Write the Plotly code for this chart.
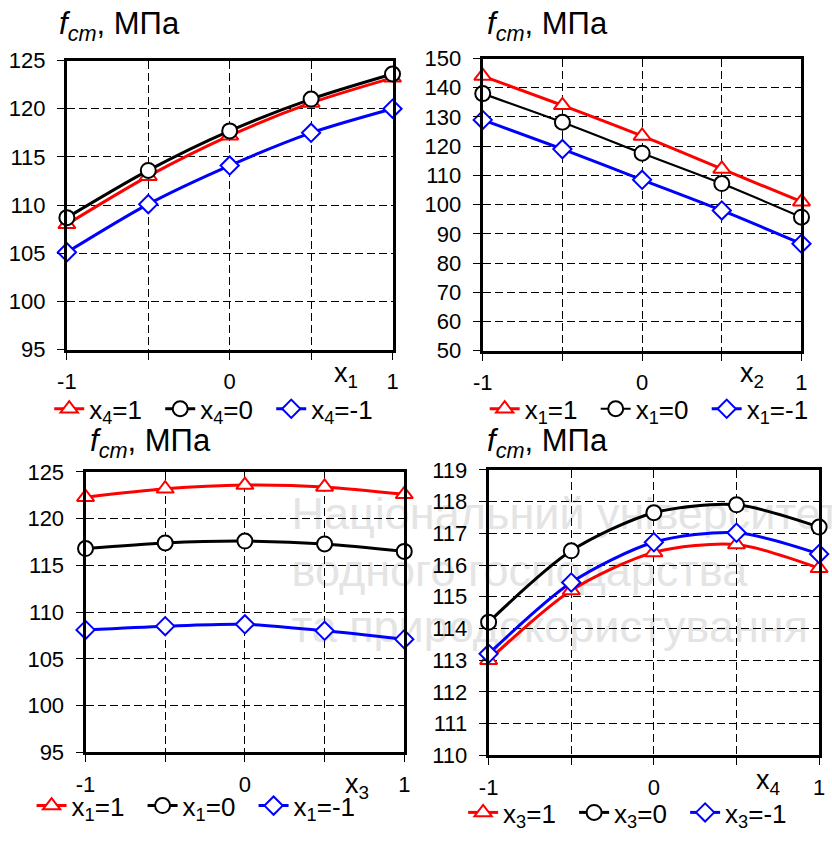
import plotly.graph_objects as go

# ---------------- data ----------------
x_levels = [-1, -0.5, 0, 0.5, 1]
x_ticktext = ["-1", "", "0", "", "1"]

# panel 1: f_cm vs x1
p1_x4_p1 = [108.0, 113.0, 117.2, 120.6, 123.2]
p1_x4_0 = [108.7, 113.6, 117.7, 121.0, 123.6]
p1_x4_m1 = [105.1, 110.1, 114.1, 117.5, 120.0]
# panel 2: f_cm vs x2
p2_x1_p1 = [144.0, 134.0, 123.5, 112.2, 101.0]
p2_x1_0 = [138.0, 128.2, 117.6, 107.2, 95.7]
p2_x1_m1 = [129.0, 119.0, 108.5, 98.0, 86.6]
# panel 3: f_cm vs x3
p3_x1_p1 = [122.3, 123.2, 123.6, 123.4, 122.6]
p3_x1_0 = [116.8, 117.4, 117.6, 117.3, 116.5]
p3_x1_m1 = [108.1, 108.5, 108.7, 108.0, 107.1]
# panel 4: f_cm vs x4
p4_x3_p1 = [113.0, 115.2, 116.4, 116.65, 115.9]
p4_x3_0 = [114.2, 116.45, 117.65, 117.9, 117.2]
p4_x3_m1 = [113.2, 115.45, 116.72, 117.02, 116.35]

panels = [
    dict(series=[p1_x4_p1, p1_x4_0, p1_x4_m1], sub="4", axis_sub="1",
         yr=[95, 125], dt=5),
    dict(series=[p2_x1_p1, p2_x1_0, p2_x1_m1], sub="1", axis_sub="2",
         yr=[50, 150], dt=10),
    dict(series=[p3_x1_p1, p3_x1_0, p3_x1_m1], sub="1", axis_sub="3",
         yr=[95, 125], dt=5),
    dict(series=[p4_x3_p1, p4_x3_0, p4_x3_m1], sub="3", axis_sub="4",
         yr=[110, 119], dt=1),
]
levels = ["1", "0", "-1"]
wm_lines = ["Національний університет", "водного господарства",
            "та природокористування"]

# ---------------- styling ----------------
W, H = 832, 842
FONT = "Liberation Sans, Arial, sans-serif"
colors = ["#ff0000", "#000000", "#0000ff"]
symbols = ["triangle-up", "circle", "diamond"]
msizes = [15, 15, 14]

# plot areas in pixels: (left, right, top, bottom)
boxes = [(58, 390, 50, 348), (482, 807, 48, 349),
         (77, 402, 474, 763), (488, 825, 472, 766)]
titles_pos = [(48, 14), (484, 14), (80, 444), (484, 444)]
axlab_pos = [(343, 374), (757, 374), (354, 798), (773, 794)]
legend_pos = [(40, 409), (484, 409), (22, 818), (462, 825)]

fig = go.Figure()
annotations = []
shapes = []
layout = {}
for i, p in enumerate(panels):
    n = "" if i == 0 else str(i + 1)
    xa, ya = "x" + n, "y" + n
    lg = "legend" if i == 0 else "legend" + str(i + 1)
    for k in range(3):
        fig.add_trace(go.Scatter(
            x=x_levels, y=p["series"][k], xaxis=xa, yaxis=ya,
            mode="lines+markers", cliponaxis=False,
            line=dict(color=colors[k], width=2.2 if (i == 1 and k == 1) else 3,
                      shape="spline", smoothing=0.8),
            marker=dict(symbol=symbols[k], size=msizes[k], color="white",
                        line=dict(width=2, color=colors[k])),
            name="x<sub>%s</sub>=%s" % (p["sub"], levels[k]),
            legend=lg, showlegend=True,
        ))
    L, R, T, B = boxes[i]
    layout["xaxis" + n] = dict(
        domain=[L / W, R / W], anchor=ya, range=[-1, 1],
        tickvals=x_levels, ticktext=x_ticktext, ticks="outside", ticklen=7,
        tickcolor="black", tickwidth=1, showline=True, linecolor="black",
        linewidth=3, mirror=True, showgrid=True, gridcolor="black",
        gridwidth=1, griddash="8px,4px", zeroline=False,
        tickfont=dict(size=22, color="black", family=FONT),
        ticklabelstandoff=3,
    )
    yt = list(range(p["yr"][0], p["yr"][1] + 1, p["dt"]))
    layout["yaxis" + n] = dict(
        domain=[1 - B / H, 1 - T / H], anchor=xa, range=p["yr"],
        tickvals=yt, ticks="outside", ticklen=7, tickcolor="black",
        tickwidth=1, showline=True, linecolor="black", linewidth=3,
        mirror=True, showgrid=True, gridcolor="black", gridwidth=1,
        griddash="8px,4px", zeroline=False,
        tickfont=dict(size=22, color="black", family=FONT),
        ticklabelstandoff=7,
    )
    lx, ly = legend_pos[i]
    layout[lg] = dict(
        x=lx / W, y=1 - ly / H, xanchor="left", yanchor="middle",
        orientation="h", font=dict(size=26, color="black", family=FONT),
        bgcolor="rgba(0,0,0,0)", entrywidth=66, itemwidth=30,
        tracegroupgap=0,
    )
    tx, ty = titles_pos[i]
    annotations.append(dict(
        text="<i>f<sub>cm</sub></i>, МПа", x=tx / W, y=1 - ty / H,
        xref="paper", yref="paper", xanchor="left", yanchor="middle",
        showarrow=False, font=dict(size=31, color="black", family=FONT)))
    ax_, ay_ = axlab_pos[i]
    annotations.append(dict(
        text="x<sub>%s</sub>" % p["axis_sub"], x=ax_ / W, y=1 - ay_ / H,
        xref="paper", yref="paper", xanchor="center", yanchor="middle",
        showarrow=False, font=dict(size=27, color="black", family=FONT)))

# faint watermark of the source, drawn beneath the plots
wm_y = [513, 571, 629]
for j, t in enumerate(wm_lines):
    shapes.append(dict(
        type="rect", xref="paper", yref="paper", layer="below",
        x0=284 / W, x1=1.2, y0=1 - (wm_y[j] + 25) / H,
        y1=1 - (wm_y[j] - 25) / H, line=dict(width=0),
        fillcolor="rgba(0,0,0,0)",
        label=dict(text=t, textposition="middle left", padding=0,
                   font=dict(size=45, color="#e4e4e4", family=FONT))))

fig.update_layout(
    width=W, height=H, margin=dict(l=0, r=0, t=0, b=0),
    paper_bgcolor="white", plot_bgcolor="rgba(0,0,0,0)",
    annotations=annotations, shapes=shapes, **layout,
)
fig.write_html("out.html")
